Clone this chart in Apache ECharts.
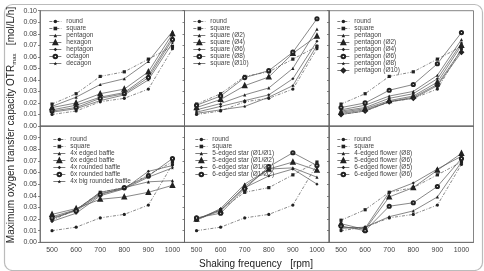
<!DOCTYPE html>
<html>
<head>
    <meta charset="utf-8">
    <title>OTRmax vs shaking frequency</title>
</head>
<body style="margin:0;background:#fff;">
<div id="main" style="width: 484px;height:271px;"></div>

<script src="https://cdn.jsdelivr.net/npm/echarts@6/dist/echarts.min.js"></script>

<script type="text/javascript">
// shaking frequency categories [rpm]
var freq = ['500', '600', '700', '800', '900', '1000'];

// reference flasks (shown in every panel)
var round  = [0.010, 0.013, 0.021, 0.024, 0.032, 0.067];
var square = [0.019, 0.028, 0.043, 0.047, 0.058, 0.069];

// panel 1: polygons
var pentagon = [0.017, 0.025, 0.036, 0.041, 0.056, 0.082];
var hexagon  = [0.016, 0.020, 0.028, 0.032, 0.047, 0.080];
var heptagon = [0.014, 0.018, 0.025, 0.029, 0.044, 0.077];
var octagon  = [0.013, 0.016, 0.024, 0.028, 0.042, 0.075];
var decagon  = [0.012, 0.015, 0.022, 0.027, 0.040, 0.072];

// panel 2: square with rounded corners
var sqD2  = [0.014, 0.0195, 0.027, 0.033, 0.050, 0.084];
var sqD4  = [0.016, 0.023, 0.035, 0.0425, 0.063, 0.078];
var sqD6  = [0.012, 0.017, 0.022, 0.027, 0.041, 0.0735];
var sqD8  = [0.018, 0.026, 0.042, 0.048, 0.064, 0.093];
var sqD10 = [0.011, 0.014, 0.017, 0.025, 0.035, 0.070];

// panel 3: pentagon with rounded corners
var pentaPlain = [0.014, 0.018, 0.026, 0.030, 0.044, 0.075];
var pentaD2  = [0.012, 0.015, 0.022, 0.026, 0.038, 0.070];
var pentaD4  = [0.013, 0.016, 0.024, 0.028, 0.041, 0.072];
var pentaD6  = [0.016, 0.020, 0.031, 0.036, 0.054, 0.081];
var pentaD8  = [0.011, 0.014, 0.021, 0.025, 0.036, 0.066];
var pentaD10 = [0.010, 0.013, 0.021, 0.024, 0.035, 0.064];

// panel 4: baffles
var edged4   = [0.022, 0.028, 0.043, 0.047, 0.052, 0.053];
var edged6   = [0.024, 0.029, 0.037, 0.039, 0.043, 0.049];
var rounded4 = [0.020, 0.028, 0.042, 0.046, 0.061, 0.066];
var rounded6 = [0.021, 0.027, 0.041, 0.047, 0.057, 0.072];
var bigRound4 = [0.018, 0.025, 0.040, 0.046, 0.056, 0.064];

// panel 5: stars
var star5a = [0.019, 0.029, 0.050, 0.063, 0.064, 0.056];
var star5b = [0.020, 0.027, 0.048, 0.063, 0.069, 0.062];
var star6a = [0.020, 0.028, 0.047, 0.057, 0.063, 0.050];
var star6b = [0.021, 0.025, 0.046, 0.065, 0.077, 0.066];

// panel 6: flowers
var flower4 = [0.012, 0.013, 0.022, 0.027, 0.039, 0.069];
var flower5 = [0.016, 0.011, 0.039, 0.047, 0.062, 0.0765];
var flower6a = [0.013, 0.012, 0.043, 0.051, 0.063, 0.074];
var flower6b = [0.014, 0.010, 0.031, 0.034, 0.048, 0.072];

var starSym = 'path://M0,-10L2.9,-4L9.5,-3.1L4.7,1.5L5.9,8.1L0,5L-5.9,8.1L-4.7,1.5L-9.5,-3.1L-2.9,-4Z';
var font = 'Liberation Sans, Arial, sans-serif';

// panel geometry
var colLeft = [40, 184.5, 329];
var colW = 144.5;
var rowTop = [10.7, 126];
var rowH = [115.3, 116.3];

var grids = [], xAxes = [], yAxes = [], legends = [], series = [];

// one line series
function addLine(panel, name, data, symbol, dashed) {
    series.push({
        type: 'line',
        name: name,
        data: data,
        xAxisIndex: panel,
        yAxisIndex: panel,
        symbol: symbol,
        symbolSize: 3.2,
        color: '#333',
        lineStyle: { color: '#555', width: 0.7, type: dashed ? [3, 1.5, 1, 1.5] : 'solid' },
        itemStyle: { color: '#222', borderWidth: 0.6 },
        emphasis: { disabled: true }
    });
}

var panels = [
    [['round', round, 'circle', true], ['square', square, 'rect', true],
     ['pentagon', pentagon, 'triangle'], ['hexagon', hexagon, 'emptyTriangle'],
     ['heptagon', heptagon, 'diamond'], ['octagon', octagon, 'emptyCircle'],
     ['decagon', decagon, starSym]],
    [['round', round, 'circle', true], ['square', square, 'rect', true],
     ['square (Ø2)', sqD2, 'triangle'], ['square (Ø4)', sqD4, 'emptyTriangle'],
     ['square (Ø6)', sqD6, 'diamond'], ['square (Ø8)', sqD8, 'emptyCircle'],
     ['square (Ø10)', sqD10, starSym]],
    [['round', round, 'circle', true], ['square', square, 'rect', true],
     ['pentagon', pentaPlain, 'triangle'], ['pentagon (Ø2)', pentaD2, 'emptyTriangle'],
     ['pentagon (Ø4)', pentaD4, 'diamond'], ['pentagon (Ø6)', pentaD6, 'emptyCircle'],
     ['pentagon (Ø8)', pentaD8, starSym], ['pentagon (Ø10)', pentaD10, 'emptyDiamond']],
    [['round', round, 'circle', true], ['square', square, 'rect', true],
     ['4x edged baffle', edged4, 'triangle'], ['6x edged baffle', edged6, 'emptyTriangle'],
     ['4x rounded baffle', rounded4, 'diamond'], ['6x rounded baffle', rounded6, 'emptyCircle'],
     ['4x big rounded baffle', bigRound4, starSym]],
    [['round', round, 'circle', true], ['square', square, 'rect', true],
     ['5-edged star (Ø1/Ø1)', star5a, 'triangle'], ['5-edged star (Ø1/Ø2)', star5b, 'emptyTriangle'],
     ['6-edged star (Ø1/Ø1)', star6a, 'diamond'], ['6-edged star (Ø1/Ø2)', star6b, 'emptyCircle']],
    [['round', round, 'circle', true], ['square', square, 'rect', true],
     ['4-edged flower (Ø8)', flower4, 'triangle'], ['5-edged flower (Ø6)', flower5, 'emptyTriangle'],
     ['6-edged flower (Ø5)', flower6a, 'diamond'], ['6-edged flower (Ø6)', flower6b, 'emptyCircle']]
];

var legendLeft = [44, 188, 332, 48, 190, 332];

panels.forEach(function (items, p) {
    var r = Math.floor(p / 3), c = p % 3;
    grids.push({
        left: colLeft[c], top: rowTop[r], width: colW, height: rowH[r],
        show: true, borderColor: '#666', borderWidth: 0.8, containLabel: false
    });
    xAxes.push({
        type: 'category', gridIndex: p, data: freq, boundaryGap: true,
        axisLine: { lineStyle: { color: '#666', width: 0.8 } },
        axisTick: { alignWithLabel: true, length: 2, lineStyle: { color: '#666', width: 0.8 } },
        axisLabel: { show: r === 1, fontSize: 7, color: '#444', margin: 4, fontFamily: font },
        splitLine: { show: false }
    });
    yAxes.push({
        type: 'value', gridIndex: p, min: 0, max: 0.1, interval: 0.01,
        axisLine: { show: true, lineStyle: { color: '#666', width: 0.8 } },
        axisTick: { show: true, length: 2, lineStyle: { color: '#666', width: 0.8 } },
        axisLabel: {
            show: c === 0, fontSize: 7, color: '#444', margin: 3, fontFamily: font,
            showMaxLabel: r === 0,
            formatter: function (v) { return v.toFixed(2); }
        },
        splitLine: { show: false }
    });
    legends.push({
        orient: 'vertical', left: legendLeft[p], top: r === 0 ? 13 : 131,
        itemWidth: 12, itemHeight: 4.5, itemGap: 0,
        lineStyle: { width: 0.7, color: '#444' },
        textStyle: { fontSize: 6.5, lineHeight: 7, color: '#444', fontFamily: font },
        selectedMode: false,
        data: items.map(function (it) { return it[0]; })
    });
    items.forEach(function (it) {
        addLine(p, it[0], it[1], it[2], it[3]);
    });
});

var myChart = echarts.init(document.getElementById('main'));

var option = {
    animation: false,
    backgroundColor: '#fff',
    grid: grids,
    xAxis: xAxes,
    yAxis: yAxes,
    legend: legends,
    series: series,
    graphic: [
        // rounded frame round the figure
        {
            type: 'rect', left: 2, top: 2, silent: true,
            shape: { width: 478, height: 266, r: 8 },
            style: { fill: 'none', stroke: '#bbb', lineWidth: 1.2 }
        },
        // y axis title
        {
            type: 'text', x: 11, y: 125, rotation: Math.PI / 2, silent: true,
            style: {
                text: '{a|Maximum oxygen transfer capacity OTR}{b|max}{a|   [mol/L/h]}',
                align: 'center', verticalAlign: 'middle',
                fill: '#222', fontFamily: font,
                rich: {
                    a: { fontSize: 10, fontFamily: font, fill: '#222', lineHeight: 12 },
                    b: { fontSize: 6, fontFamily: font, fill: '#222', lineHeight: 12, verticalAlign: 'bottom' }
                }
            }
        },
        // x axis title
        {
            type: 'text', x: 256, y: 264, silent: true,
            style: {
                text: 'Shaking frequency   [rpm]',
                align: 'center', verticalAlign: 'middle',
                fontSize: 10, fontFamily: font, fill: '#222'
            }
        }
    ]
};

myChart.setOption(option);
</script>
</body>
</html>
